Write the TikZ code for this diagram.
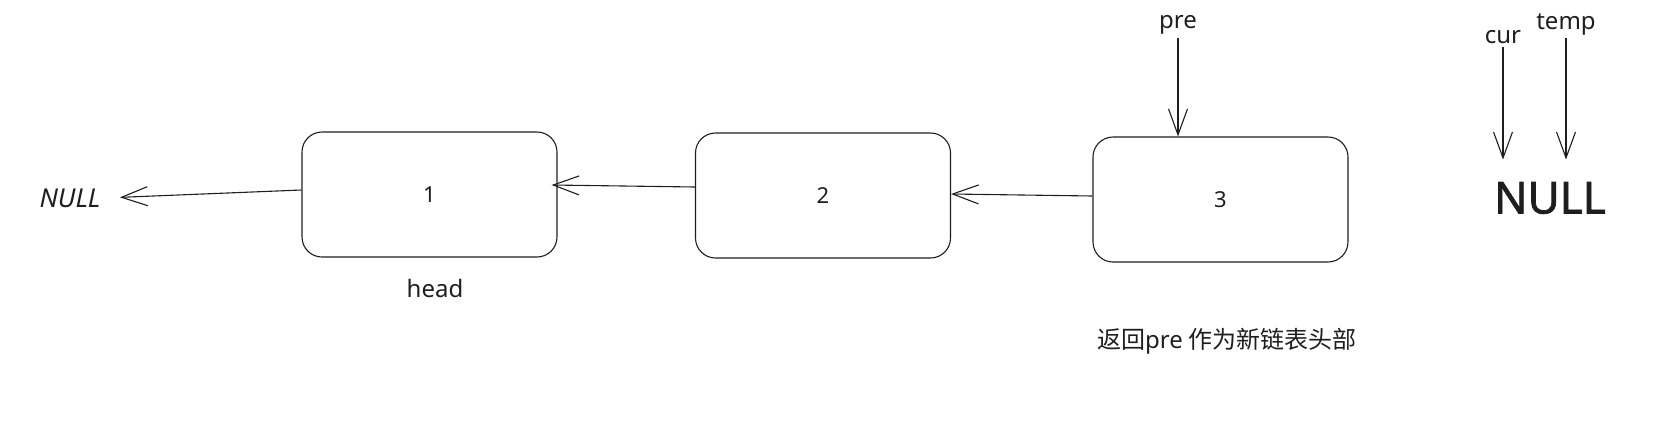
\documentclass[tikz,border=0pt]{standalone}
\usepackage{fontspec}
\setmainfont{Noto Sans}
\newfontfamily\cjkfont{Noto Sans CJK SC}
\newfontfamily\heavyfont{Noto Sans}[FakeBold=1.6]
\usetikzlibrary{arrows.meta}

\definecolor{inkc}{HTML}{1E1E1E}

\tikzset{
  listbox/.style={draw=inkc, rounded corners=20pt, minimum width=255pt, minimum height=125pt,
    line width=1.1pt, text=inkc, font=\fontsize{22}{26}\selectfont},
  ptr/.style={draw=inkc, line width=1.1pt, -{Straight Barb[length=26pt, width=19pt]}},
  lbl/.style={text=inkc, font=\fontsize{24}{28}\selectfont},
}

\begin{document}
\begin{tikzpicture}[x=1pt, y=-1pt]
  \useasboundingbox (0,0) rectangle (1678,429);

  % the three list nodes
  \node[listbox] (n1) at (429.5,194.5) {1};
  \node[listbox] (n2) at (823,195.5) {2};
  \node[listbox] (n3) at (1220.5,199.5) {3};

  \node[lbl, font=\fontsize{26}{28}\selectfont\itshape] (nullL) at (70,198) {NULL};
  \node[lbl] (head) at (435,288) {head};

  % reversed next pointers
  \draw[ptr, shorten >=16pt] ([yshift=4.5pt]n1.west) -- (nullL.east);
  \draw[ptr] ([yshift=8.5pt]n2.west) -- ([xshift=-6pt,yshift=9.5pt]n1.east);
  \draw[ptr] ([yshift=3.5pt]n3.west) -- ([yshift=1.5pt]n2.east);

  % pointers
  \node[lbl] (pre) at (1178,25) {pre};
  \draw[ptr] (pre.south) -- (pre.south |- n3.north);

  \node[text=inkc, font=\fontsize{44}{48}\heavyfont] (nullR) at (1550,198) {NULL};
  \node[lbl] (cur) at (1503,37) {cur};
  \node[lbl] (temp) at (1566,24) {temp};
  \draw[ptr, shorten >=19pt] (cur.south) -- (cur.south |- nullR.north);
  \draw[ptr, shorten >=19pt] (temp.south) -- (temp.south |- nullR.north);

  \node[text=inkc, font=\fontsize{24}{28}\selectfont] (note) at (1227,341)
    {{\cjkfont 返回}pre\hspace{6pt}{\cjkfont 作为新链表头部}};
\end{tikzpicture}
\end{document}
